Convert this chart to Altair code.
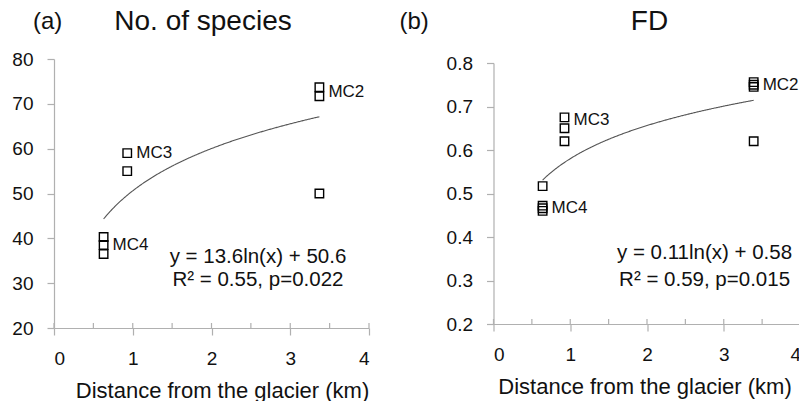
import altair as alt
import pandas as pd

FONT = "Liberation Sans"

# ---- panel (a): No. of species ----
a_x = [3.37, 3.37, 3.37, 0.93, 0.93, 0.63, 0.63, 0.63]
a_y = [73.7, 71.7, 50.0, 59.0, 55.0, 40.3, 38.5, 36.5]
a_site = ["MC2", "MC3", "MC4"]
a_site_x = [3.37, 0.93, 0.63]
a_site_y = [72.7, 59.0, 38.6]
a_coef = [13.6, 50.6]
a_eq = ["y = 13.6ln(x) + 50.6", "R² = 0.55, p=0.022"]
a_eq_x = [2.59, 2.59]
a_eq_y = [35.8, 30.7]
a_yticks = [20, 30, 40, 50, 60, 70, 80]

# ---- panel (b): FD ----
b_x = [3.39, 3.39, 3.39, 3.39, 0.925, 0.925, 0.925, 0.64, 0.64, 0.64, 0.64]
b_y = [0.756, 0.750, 0.745, 0.620, 0.675, 0.650, 0.620, 0.517, 0.472, 0.466, 0.460]
b_site = ["MC2", "MC3", "MC4"]
b_site_x = [3.39, 0.925, 0.64]
b_site_y = [0.749, 0.668, 0.466]
b_coef = [0.11, 0.58]
b_eq = ["y = 0.11ln(x) + 0.58", "R² = 0.59, p=0.015"]
b_eq_x = [2.75, 2.75]
b_eq_y = [0.363, 0.301]
b_yticks = [0.2, 0.3, 0.4, 0.5, 0.6, 0.7, 0.8]

x_major = [0, 1, 2, 3, 4]
x_minor = [0, 0.5, 1, 1.5, 2, 2.5, 3, 3.5, 4]

AX = "#b0b0b0"
TXT = "#111111"


def panel(xs, ys, sites, sx, sy, coef, eq, ex, ey, yticks, ydom, yfmt,
          w, h, top, tag, tag_x, title, title_cx, xtitle_x):
    xscale = alt.Scale(domain=[0, 4], nice=False, zero=False)
    yscale = alt.Scale(domain=ydom, nice=False, zero=False, range=[h, top])
    xaxis = alt.Axis(values=x_major, title="Distance from the glacier (km)",
                     format="d", tickSize=7, labelPadding=14, titlePadding=12,
                     titleX=xtitle_x, titleAlign="center")
    yaxis = alt.Axis(values=yticks, title=None, format=yfmt, tickSize=7,
                     labelPadding=14)
    pts = pd.DataFrame({"x": xs, "y": ys})
    points = alt.Chart(pts).mark_point(
        shape="square", filled=False, size=72, color="black",
        strokeWidth=1.4, opacity=1
    ).encode(
        x=alt.X("x:Q", scale=xscale, axis=xaxis),
        y=alt.Y("y:Q", scale=yscale, axis=yaxis),
    )
    curve = alt.Chart(alt.sequence(min(xs), max(xs) + 0.001, 0.01, as_="x")).transform_calculate(
        y=f"{coef[0]}*log(datum.x)+{coef[1]}"
    ).mark_line(color="#555555", strokeWidth=1.1).encode(
        x=alt.X("x:Q", scale=xscale), y=alt.Y("y:Q", scale=yscale)
    )
    lbl = alt.Chart(pd.DataFrame({"x": sx, "y": sy, "t": sites})).mark_text(
        align="left", baseline="middle", dx=9, fontSize=17, font=FONT, color=TXT
    ).encode(x=alt.X("x:Q", scale=xscale), y=alt.Y("y:Q", scale=yscale), text="t:N")
    eqt = alt.Chart(pd.DataFrame({"x": ex, "y": ey, "t": eq})).mark_text(
        align="center", baseline="middle", fontSize=20.5, font=FONT, color=TXT
    ).encode(x=alt.X("x:Q", scale=xscale), y=alt.Y("y:Q", scale=yscale), text="t:N")
    minor = alt.Chart(pd.DataFrame({"x": x_minor})).mark_rule(
        color=AX, strokeWidth=1.2
    ).encode(x=alt.X("x:Q", scale=xscale), y=alt.value(h), y2=alt.value(h - 5))
    tg = alt.Chart(pd.DataFrame({"t": [tag]})).mark_text(
        align="left", baseline="middle", fontSize=24, font=FONT, color=TXT
    ).encode(x=alt.value(tag_x), y=alt.value(-37), text="t:N")
    tt = alt.Chart(pd.DataFrame({"t": [title]})).mark_text(
        align="center", baseline="middle", fontSize=28, font=FONT, color=TXT
    ).encode(x=alt.value(title_cx), y=alt.value(-37), text="t:N")
    return alt.layer(minor, curve, points, lbl, eqt, tg, tt).properties(width=w, height=h)


pa = panel(a_x, a_y, a_site, a_site_x, a_site_y, a_coef, a_eq, a_eq_x, a_eq_y,
           a_yticks, [20, 80], "d", 315, 269, 0, "(a)", -21, "No. of species", 149, 168)
pb = panel(b_x, b_y, b_site, b_site_x, b_site_y, b_coef, b_eq, b_eq_x, b_eq_y,
           b_yticks, [0.2, 0.8], ".1f", 307, 265, 4, "(b)", -94, "FD", 156, 151)

chart = alt.hconcat(pa, pb, spacing=29.5).properties(
    padding={"left": 11, "top": 8, "right": -3, "bottom": 0}, background="white"
).configure_view(stroke=None).configure_axis(
    domainColor=AX, tickColor=AX, grid=False, labelFont=FONT, labelFontSize=19,
    labelColor=TXT, titleFont=FONT, titleFontSize=22, titleFontWeight="normal",
    titleColor=TXT, domainWidth=1.2, tickWidth=1.2
)

chart.save("out.html", embed_options={"renderer": "svg", "actions": False})
